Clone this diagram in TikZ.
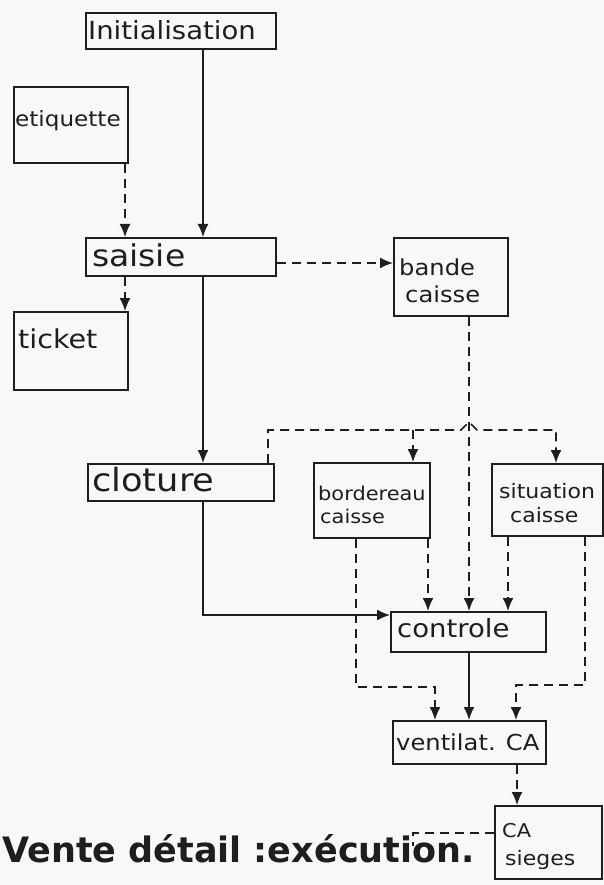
\documentclass[tikz,border=0pt]{standalone}
\usepackage{fontspec}
\setmainfont{DejaVu Sans}
\newfontfamily\handfont[FakeStretch=1.1]{DejaVu Sans}
\newfontfamily\titlefont{DejaVu Sans}
\usetikzlibrary{arrows.meta,calc}
\definecolor{ink}{HTML}{1E1E1E}
\definecolor{paper}{HTML}{F8F8F6}
\begin{document}
\begin{tikzpicture}[x=1pt,y=-1pt,
  box/.style={draw=ink, line width=2pt, inner sep=0pt, anchor=north west},
  lbl/.style={anchor=base west, inner sep=0pt, text=ink, font=\handfont\fontsize{#1}{#1}\selectfont},
  conn/.style={draw=ink, line width=1.6pt},
  dsh/.style={conn, dash pattern=on 9pt off 6pt},
  arr/.style={-{Latex[length=13pt,width=11pt]}},
]
\fill[paper] (0,0) rectangle (604,885);
\useasboundingbox (0,0) rectangle (604,885);

% boxes
\node[box, minimum width=190pt, minimum height=36pt] (init) at (85,12) {};
\node[box, minimum width=114pt, minimum height=76pt] (etiq) at (13,86) {};
\node[box, minimum width=190pt, minimum height=38pt] (saisie) at (85,237) {};
\node[box, minimum width=114pt, minimum height=78pt] (bande) at (393,237) {};
\node[box, minimum width=114pt, minimum height=78pt] (ticket) at (13,311) {};
\node[box, minimum width=186pt, minimum height=37pt] (cloture) at (87,463) {};
\node[box, minimum width=116pt, minimum height=75pt] (bord) at (313,462) {};
\node[box, minimum width=111pt, minimum height=72pt] (situ) at (491,463) {};
\node[box, minimum width=155pt, minimum height=40pt] (ctrl) at (390,611) {};
\node[box, minimum width=153pt, minimum height=43pt] (vent) at (392,720) {};
\node[box, minimum width=107pt, minimum height=73pt] (sieges) at (494,805) {};

% texts
\node[lbl=25] (t-init) at (88,40) {Initialisation};
\node[lbl=21] (t-etiq) at (15,127) {etiquette};
\node[lbl=30] (t-saisie) at (92,266) {saisie};
\node[lbl=26] (t-ticket) at (18,348) {ticket};
\node[lbl=22] (t-bande1) at (399,275) {bande};
\node[lbl=22] (t-bande2) at (405,302) {caisse};
\node[lbl=32] (t-cloture) at (92,491) {cloture};
\node[lbl=19] (t-bord1) at (318,500) {bordereau};
\node[lbl=19] (t-bord2) at (320,523) {caisse};
\node[lbl=20] (t-situ1) at (499,498) {situation};
\node[lbl=20] (t-situ2) at (510,522) {caisse};
\node[lbl=25] (t-ctrl) at (397,637) {controle};
\node[lbl=22] (t-vent) at (396,750) {ventilat. CA};
\node[lbl=19] (t-sieges1) at (502,837) {CA};
\node[lbl=20] (t-sieges2) at (505,865) {sieges};

\node[anchor=base west, inner sep=0pt, text=ink, font=\titlefont\bfseries\fontsize{35}{40}\selectfont] (title) at (2,862) {Vente détail :exécution.};

% helper coordinates
\coordinate (xa) at (203,0);
\coordinate (xe) at (125,0);
\coordinate (yb) at (0,263);
\coordinate (xb) at (469,0);
\coordinate (xc) at (268,0);
\coordinate (xd) at (413,0);
\coordinate (xs) at (556,0);
\coordinate (yh) at (0,430);
\coordinate (xbr) at (428,0);
\coordinate (xsb) at (508,0);
\coordinate (xbl) at (356,0);
\coordinate (xbv) at (435,0);
\coordinate (yl) at (0,687);
\coordinate (xsr) at (585,0);
\coordinate (xsv) at (516,0);
\coordinate (yr) at (0,685);
\coordinate (xv) at (517,0);
\coordinate (yc) at (0,833);
\coordinate (cend) at (413,846);
\coordinate (yk) at (0,615);

% connectors
\draw[conn,arr] (init.south -| xa) -- (saisie.north -| xa);
\draw[dsh,arr] (etiq.south -| xe) -- (saisie.north -| xe);
\draw[dsh,arr] (saisie.south -| xe) -- (ticket.north -| xe);
\draw[dsh,arr] (saisie.east |- yb) -- (bande.west |- yb);
\draw[conn,arr] (saisie.south -| xa) -- (cloture.north -| xa);
\draw[conn,arr] (cloture.south -| xa) |- (ctrl.west |- yk);
\draw[dsh,arr] (cloture.north -| xc) -- (xc |- yh) -- ($(xb |- yh)+(-8,0)$) -- ($(xb |- yh)+(0,-8)$) -- ($(xb |- yh)+(8,0)$) -- (xs |- yh) -- (situ.north -| xs);
\draw[dsh,arr] (xd |- yh) -- (bord.north -| xd);
\draw[dsh,arr] (bande.south -| xb) -- (ctrl.north -| xb);
\draw[dsh,arr] (bord.south -| xbr) -- (ctrl.north -| xbr);
\draw[dsh,arr] (situ.south -| xsb) -- (ctrl.north -| xsb);
\draw[conn,arr] (ctrl.south -| xb) -- (vent.north -| xb);
\draw[dsh,arr] (bord.south -| xbl) |- (xbv |- yl) -- (vent.north -| xbv);
\draw[dsh,arr] (situ.south -| xsr) |- (xsv |- yr) -- (vent.north -| xsv);
\draw[dsh,arr] (vent.south -| xv) -- (sieges.north -| xv);
\draw[dsh] (sieges.west |- yc) -| (cend);
\end{tikzpicture}
\end{document}
